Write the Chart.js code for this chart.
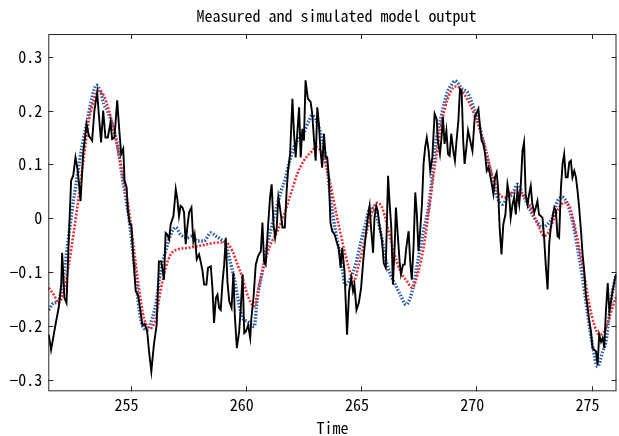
<!DOCTYPE html>
<html>
<head>
<meta charset="utf-8">
<script src="https://cdn.jsdelivr.net/npm/chart.js@4/dist/chart.umd.min.js"></script>
<style>
  html, body { margin: 0; padding: 0; background: #fff; }
  canvas { display: block; }
</style>
</head>
<body>
<canvas id="chart1" width="619" height="436"></canvas>
<script>
// measured output (black)
const measTime = [
  251.45, 251.55, 251.74, 251.88, 251.99, 252.03, 252.13, 252.22, 252.32, 252.42,
  252.51, 252.61, 252.71, 252.83, 252.94, 253.09, 253.19, 253.33, 253.43, 253.55,
  253.62, 253.72, 253.81, 253.91, 254.01, 254.13, 254.20, 254.30, 254.42, 254.49,
  254.59, 254.68, 254.74, 254.83, 254.88, 254.97, 255.03, 255.12, 255.22, 255.32,
  255.41, 255.51, 255.61, 255.72, 255.80, 255.90, 256.01, 256.13, 256.23, 256.33,
  256.45, 256.52, 256.59, 256.67, 256.74, 256.86, 256.96, 257.03, 257.10, 257.17,
  257.25, 257.32, 257.39, 257.46, 257.54, 257.64, 257.72, 257.78, 257.87, 257.97,
  258.04, 258.12, 258.19, 258.29, 258.36, 258.48, 258.55, 258.62, 258.70, 258.77,
  258.84, 258.91, 258.99, 259.06, 259.13, 259.20, 259.28, 259.38, 259.46, 259.52,
  259.61, 259.71, 259.78, 259.86, 259.93, 260.00, 260.10, 260.19, 260.24, 260.33,
  260.43, 260.53, 260.65, 260.72, 260.79, 260.86, 260.97, 261.05, 261.12, 261.20,
  261.27, 261.34, 261.41, 261.48, 261.59, 261.69, 261.77, 261.83, 261.92, 262.02,
  262.09, 262.16, 262.23, 262.31, 262.38, 262.45, 262.52, 262.59, 262.69, 262.81,
  262.88, 262.95, 263.03, 263.10, 263.17, 263.24, 263.31, 263.39, 263.46, 263.53,
  263.60, 263.67, 263.75, 263.85, 263.93, 264.03, 264.11, 264.18, 264.28, 264.39,
  264.48, 264.57, 264.65, 264.71, 264.80, 264.90, 265.00, 265.09, 265.19, 265.29,
  265.37, 265.43, 265.52, 265.58, 265.66, 265.72, 265.81, 265.91, 265.98, 266.07,
  266.17, 266.24, 266.31, 266.38, 266.46, 266.51, 266.59, 266.67, 266.73, 266.82,
  266.89, 266.96, 267.06, 267.13, 267.20, 267.28, 267.35, 267.42, 267.49, 267.56,
  267.64, 267.71, 267.78, 267.85, 267.93, 268.00, 268.09, 268.19, 268.28, 268.33,
  268.42, 268.49, 268.55, 268.62, 268.70, 268.77, 268.84, 268.91, 269.00, 269.07,
  269.14, 269.22, 269.29, 269.36, 269.43, 269.49, 269.57, 269.64, 269.72, 269.83,
  269.93, 270.00, 270.09, 270.16, 270.23, 270.30, 270.38, 270.45, 270.52, 270.59,
  270.67, 270.74, 270.81, 270.88, 270.94, 271.01, 271.09, 271.17, 271.26, 271.35,
  271.42, 271.49, 271.57, 271.64, 271.71, 271.78, 271.86, 271.93, 272.00, 272.07,
  272.14, 272.22, 272.29, 272.36, 272.43, 272.51, 272.58, 272.65, 272.72, 272.80,
  272.87, 272.94, 273.01, 273.09, 273.16, 273.23, 273.30, 273.38, 273.45, 273.52,
  273.59, 273.67, 273.74, 273.81, 273.88, 273.96, 274.03, 274.10, 274.17, 274.25,
  274.32, 274.39, 274.46, 274.54, 274.61, 274.68, 274.75, 274.83, 274.90, 274.97,
  275.04, 275.12, 275.19, 275.26, 275.33, 275.41, 275.48, 275.55, 275.62, 275.70,
  275.77, 275.84, 275.91, 275.99, 276.06
];
const measVal = [
  -0.216, -0.244, -0.198, -0.166, -0.123, -0.064, -0.148, -0.157, -0.036, 0.070,
  0.079, 0.113, 0.088, 0.032, 0.119, 0.175, 0.153, 0.144, 0.200, 0.234,
  0.194, 0.141, 0.200, 0.150, 0.150, 0.178, 0.147, 0.150, 0.219, 0.175,
  0.119, 0.129, 0.070, 0.057, 0.014, -0.011, -0.011, -0.073, -0.135, -0.142,
  -0.166, -0.198, -0.196, -0.210, -0.247, -0.284, -0.235, -0.198, -0.080, -0.080,
  -0.114, -0.027, -0.030, -0.039, -0.011, 0.004, 0.054, 0.035, 0.004, 0.023,
  0.020, 0.011, -0.048, -0.017, 0.011, 0.020, -0.042, -0.030, -0.076, -0.067,
  -0.080, -0.098, -0.123, -0.123, -0.092, -0.089, -0.129, -0.194, -0.148, -0.142,
  -0.166, -0.170, -0.117, -0.086, -0.036, -0.117, -0.154, -0.166, -0.101, -0.179,
  -0.241, -0.210, -0.166, -0.104, -0.213, -0.210, -0.198, -0.222, -0.185, -0.148,
  -0.086, -0.070, -0.061, -0.008, -0.080, -0.086, -0.011, 0.039, 0.063, -0.011,
  -0.036, -0.017, 0.039, 0.020, -0.017, -0.017, 0.051, 0.088, 0.119, 0.222,
  0.157, 0.113, 0.157, 0.206, 0.113, 0.166, 0.144, 0.256, 0.222, 0.216,
  0.194, 0.150, 0.107, 0.206, 0.175, 0.125, 0.094, 0.157, 0.113, 0.113,
  0.076, -0.008, -0.024, -0.030, -0.042, -0.055, -0.092, -0.055, -0.098, -0.216,
  -0.135, -0.111, -0.135, -0.123, -0.170, -0.157, -0.129, -0.080, -0.036, 0.001,
  0.023, -0.017, -0.064, 0.001, 0.023, 0.014, -0.017, -0.042, -0.083, -0.092,
  0.079, 0.026, -0.017, -0.123, -0.048, 0.020, -0.030, -0.080, -0.104, -0.086,
  -0.086, -0.055, -0.024, -0.080, -0.114, -0.048, 0.048, 0.007, -0.061, -0.024,
  0.026, 0.101, 0.132, 0.150, 0.125, 0.088, 0.113, 0.194, 0.184, 0.144,
  0.119, 0.150, 0.188, 0.138, 0.163, 0.119, 0.116, 0.157, 0.125, 0.107,
  0.144, 0.181, 0.240, 0.237, 0.144, 0.101, 0.132, 0.163, 0.147, 0.125,
  0.188, 0.194, 0.203, 0.169, 0.144, 0.138, 0.119, 0.088, 0.094, 0.082,
  0.063, 0.045, 0.076, 0.085, 0.057, -0.017, -0.067, -0.011, 0.007, 0.063,
  0.045, 0.001, 0.026, 0.039, 0.007, 0.051, 0.026, 0.063, 0.125, 0.141,
  0.045, 0.026, 0.045, 0.060, 0.026, 0.011, 0.020, 0.032, 0.007, 0.004,
  0.001, -0.036, -0.086, -0.132, -0.048, -0.017, 0.001, 0.020, 0.014, -0.033,
  -0.036, 0.057, 0.101, 0.119, 0.076, 0.076, 0.104, 0.107, 0.076, 0.088,
  0.076, 0.051, 0.020, -0.024, -0.067, -0.098, -0.142, -0.166, -0.191, -0.210,
  -0.241, -0.244, -0.247, -0.272, -0.216, -0.229, -0.222, -0.241, -0.173, -0.120,
  -0.173, -0.154, -0.135, -0.117, -0.104
];

// simulated output, model 1 (blue dotted)
const simATime = [
  251.45, 251.67, 251.88, 252.03, 252.25, 252.46, 252.68, 252.90, 253.12, 253.33,
  253.52, 253.70, 253.84, 253.99, 254.20, 254.42, 254.64, 254.86, 255.00, 255.22,
  255.43, 255.72, 255.94, 256.09, 256.30, 256.52, 256.74, 256.96, 257.17, 257.46,
  257.68, 257.90, 258.19, 258.48, 258.70, 258.91, 259.13, 259.28, 259.49, 259.71,
  259.86, 260.07, 260.36, 260.50, 260.72, 260.94, 261.15, 261.37, 261.51, 261.73,
  261.87, 262.09, 262.31, 262.52, 262.74, 262.88, 263.03, 263.17, 263.39, 263.53,
  263.67, 263.89, 264.11, 264.32, 264.54, 264.76, 264.97, 265.19, 265.40, 265.62,
  265.84, 266.05, 266.27, 266.48, 266.70, 266.95, 267.13, 267.28, 267.49, 267.71,
  267.92, 268.09, 268.21, 268.50, 268.74, 268.96, 269.07, 269.39, 269.61, 269.83,
  270.04, 270.26, 270.48, 270.70, 270.91, 271.13, 271.35, 271.57, 271.78, 272.00,
  272.22, 272.43, 272.65, 272.87, 273.09, 273.30, 273.52, 273.74, 273.96, 274.17,
  274.39, 274.61, 274.83, 275.04, 275.26, 275.48, 275.62, 275.77, 275.91, 276.06
];
const simAVal = [
  -0.170, -0.157, -0.154, -0.123, -0.055, 0.014, 0.076, 0.135, 0.181, 0.225,
  0.247, 0.234, 0.212, 0.200, 0.175, 0.138, 0.076, 0.020, -0.024, -0.111,
  -0.185, -0.207, -0.185, -0.160, -0.098, -0.061, -0.030, -0.017, -0.030, -0.036,
  -0.033, -0.042, -0.042, -0.027, -0.033, -0.039, -0.048, -0.073, -0.111, -0.160,
  -0.185, -0.191, -0.201, -0.148, -0.098, -0.048, -0.011, 0.026, 0.048, 0.076,
  0.101, 0.132, 0.150, 0.160, 0.181, 0.191, 0.184, 0.169, 0.132, 0.094,
  0.039, -0.024, -0.073, -0.123, -0.111, -0.086, -0.048, -0.011, 0.020, 0.011,
  -0.024, -0.073, -0.104, -0.123, -0.142, -0.160, -0.148, -0.123, -0.073, -0.024,
  0.020, 0.080, 0.131, 0.193, 0.234, 0.250, 0.255, 0.240, 0.234, 0.212,
  0.188, 0.150, 0.113, 0.070, 0.039, 0.026, 0.039, 0.045, 0.063, 0.045,
  0.026, 0.007, -0.008, -0.017, -0.011, 0.001, 0.032, 0.039, 0.026, -0.005,
  -0.055, -0.111, -0.179, -0.235, -0.275, -0.247, -0.229, -0.179, -0.135, -0.104
];

// simulated output, model 2 (red dotted)
const simBTime = [
  251.45, 251.67, 251.88, 252.10, 252.32, 252.54, 252.75, 252.97, 253.19, 253.41,
  253.62, 253.84, 254.06, 254.28, 254.49, 254.71, 254.93, 255.14, 255.36, 255.58,
  255.87, 256.09, 256.30, 256.52, 256.74, 257.03, 257.46, 257.90, 258.33, 258.77,
  259.13, 259.42, 259.64, 259.86, 260.07, 260.36, 260.58, 260.79, 261.08, 261.37,
  261.66, 261.95, 262.23, 262.52, 262.81, 263.07, 263.24, 263.46, 263.67, 263.96,
  264.25, 264.47, 264.68, 264.90, 265.12, 265.40, 265.69, 265.91, 266.12, 266.41,
  266.70, 266.99, 267.22, 267.49, 267.71, 267.92, 268.21, 268.64, 269.14, 269.46,
  269.68, 269.90, 270.12, 270.33, 270.55, 270.77, 270.99, 271.28, 271.57, 271.86,
  272.07, 272.29, 272.51, 272.72, 272.94, 273.16, 273.38, 273.59, 273.81, 274.03,
  274.25, 274.46, 274.68, 274.90, 275.12, 275.33, 275.55, 275.77, 275.99, 276.10
];
const simBVal = [
  -0.129, -0.142, -0.157, -0.135, -0.086, -0.024, 0.039, 0.113, 0.181, 0.219,
  0.237, 0.228, 0.200, 0.163, 0.119, 0.070, 0.014, -0.055, -0.129, -0.185,
  -0.204, -0.185, -0.135, -0.092, -0.067, -0.058, -0.055, -0.052, -0.048, -0.045,
  -0.045, -0.061, -0.086, -0.111, -0.142, -0.163, -0.123, -0.086, -0.048, -0.024,
  0.007, 0.045, 0.082, 0.107, 0.122, 0.132, 0.125, 0.101, 0.063, 0.001,
  -0.055, -0.092, -0.117, -0.086, -0.048, 0.001, 0.029, 0.020, -0.011, -0.061,
  -0.098, -0.117, -0.129, -0.098, -0.055, 0.007, 0.100, 0.205, 0.245, 0.231,
  0.215, 0.194, 0.169, 0.138, 0.101, 0.070, 0.045, 0.039, 0.048, 0.048,
  0.042, 0.026, 0.004, -0.017, -0.033, -0.024, 0.001, 0.020, 0.029, 0.023,
  -0.011, -0.055, -0.104, -0.160, -0.198, -0.216, -0.210, -0.185, -0.154, -0.142
];

const xTicks = [255, 260, 265, 270, 275];
const yTicks = [-0.3, -0.2, -0.1, 0, 0.1, 0.2, 0.3];
const chartTitle = "Measured and simulated model output";
const xLabel = "Time";

const FONT = "'Noto Sans Mono CJK JP', 'DejaVu Sans Mono', monospace";
const AXIS_COLOR = "#262626";

const toPoints = (xs, ys) => xs.map((x, i) => ({ x, y: ys[i] }));

// MATLAB-like box with inward ticks on all four sides, plus the title
const boxPlugin = {
  id: "box",
  afterDraw(chart) {
    const { ctx, chartArea: a, scales } = chart;
    ctx.save();
    ctx.strokeStyle = AXIS_COLOR;
    ctx.lineWidth = 1;
    ctx.strokeRect(a.left + 0.5, a.top + 0.5, a.right - a.left - 1, a.bottom - a.top - 1);
    ctx.beginPath();
    scales.x.ticks.forEach((t) => {
      const px = Math.round(scales.x.getPixelForValue(t.value)) + 0.5;
      ctx.moveTo(px, a.bottom);
      ctx.lineTo(px, a.bottom - 5);
      ctx.moveTo(px, a.top);
      ctx.lineTo(px, a.top + 5);
    });
    scales.y.ticks.forEach((t) => {
      const py = Math.round(scales.y.getPixelForValue(t.value)) + 0.5;
      ctx.moveTo(a.left, py);
      ctx.lineTo(a.left + 5, py);
      ctx.moveTo(a.right, py);
      ctx.lineTo(a.right - 5, py);
    });
    ctx.stroke();

    ctx.fillStyle = "#000";
    ctx.font = "16px " + FONT;
    ctx.textAlign = "center";
    ctx.textBaseline = "middle";
    ctx.fillText(chartTitle, (a.left + a.right) / 2 + 4, 15.5);
    ctx.restore();
  },
};

new Chart(document.getElementById("chart1"), {
  type: "line",
  data: {
    datasets: [
      {
        label: "Measured",
        data: toPoints(measTime, measVal),
        borderColor: "#000000",
        borderWidth: 1.9,
        pointRadius: 0,
        tension: 0,
      },
      {
        label: "Model 2",
        data: toPoints(simBTime, simBVal),
        borderColor: "#ec3038",
        borderWidth: 2.6,
        borderDash: [2, 1.6],
        pointRadius: 0,
        cubicInterpolationMode: "monotone",
      },
      {
        label: "Model 1",
        data: toPoints(simATime, simAVal),
        borderColor: "#2d5fae",
        borderWidth: 3.4,
        borderDash: [1.6, 1.6],
        pointRadius: 0,
        cubicInterpolationMode: "monotone",
      },
    ],
  },
  options: {
    responsive: false,
    animation: false,
    devicePixelRatio: 1,
    layout: { padding: { top: 34, right: 2.5, left: 0, bottom: 0 } },
    plugins: {
      legend: { display: false },
      tooltip: { enabled: false },
      title: { display: false },
    },
    scales: {
      x: {
        type: "linear",
        min: 251.43,
        max: 276.08,
        afterBuildTicks: (scale) => {
          scale.ticks = xTicks.map((v) => ({ value: v }));
        },
        afterFit: (scale) => {
          scale.height = 44.7;
        },
        grid: { display: false, drawTicks: false },
        border: { display: false },
        ticks: {
          color: "#000",
          font: { family: FONT, size: 16 },
          padding: 4,
          labelOffset: -4,
          maxRotation: 0,
          callback: (v) => String(v),
        },
        title: {
          display: true,
          text: xLabel,
          color: "#000",
          font: { family: FONT, size: 16, lineHeight: 1 },
          padding: 0,
        },
      },
      y: {
        type: "linear",
        min: -0.321,
        max: 0.342,
        afterBuildTicks: (scale) => {
          scale.ticks = yTicks.map((v) => ({ value: v }));
        },
        afterFit: (scale) => {
          scale.width = 48.3;
        },
        grid: { display: false, drawTicks: false },
        border: { display: false },
        ticks: {
          color: "#000",
          font: { family: FONT, size: 16 },
          padding: 6,
          callback: (v) => (v === 0 ? "0" : (v < 0 ? "\u2212" : "") + Math.abs(v).toFixed(1)),
        },
      },
    },
  },
  plugins: [boxPlugin],
});
</script>
</body>
</html>
